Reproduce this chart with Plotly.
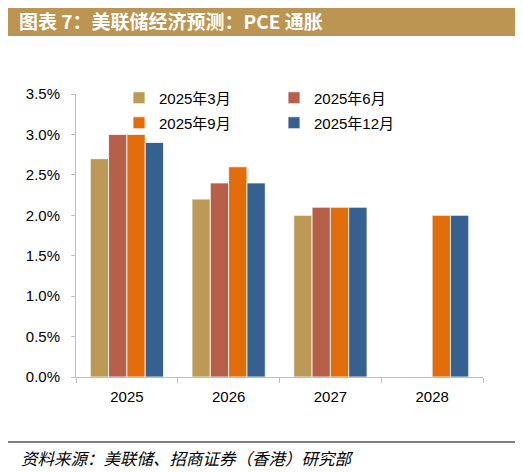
import plotly.graph_objects as go

years = ["2025", "2026", "2027", "2028"]
series_names = ["2025年3月", "2025年6月", "2025年9月", "2025年12月"]
mar_2025 = [2.7, 2.2, 2.0, None]
jun_2025 = [3.0, 2.4, 2.1, None]
sep_2025 = [3.0, 2.6, 2.1, 2.0]
dec_2025 = [2.9, 2.4, 2.1, 2.0]
y_ticks = [0, 0.5, 1.0, 1.5, 2.0, 2.5, 3.0, 3.5]
y_tick_labels = [f"{v:.1f}%" for v in y_ticks]

colors = ["#BC9A56", "#B85F4A", "#E36C0A", "#36608F"]
values = [mar_2025, jun_2025, sep_2025, dec_2025]

# page body has an 8px margin, so work in reference pixels and shift
OFF = 8
W, H = 523 - OFF, 472 - OFF
L, R, T, B = 76 - OFF, 40, 94 - OFF, 95
pw, ph = W - L - R, H - T - B


def px(x):
    return (x - OFF - L) / pw


def py(y):
    return (H - B - (y - OFF)) / ph


FONT = "Liberation Sans, Arial, Noto Sans CJK SC, sans-serif"

fig = go.Figure()
# legend text starts ~49px right of the legend's x
legend_pos = [(168 - 49, 98), (323 - 49, 98), (168 - 49, 123), (323 - 49, 123)]
for k, (name, vals, col) in enumerate(zip(series_names, values, colors)):
    lg = "legend" if k == 0 else f"legend{k + 1}"
    fig.add_trace(go.Bar(
        x=years, y=vals, name=name, legend=lg, showlegend=True,
        marker=dict(color=col, line=dict(color="white", width=0.8)),
    ))

legends = {}
for k, (lx, ly) in enumerate(legend_pos):
    key = "legend" if k == 0 else f"legend{k + 1}"
    legends[key] = dict(
        x=px(lx), y=py(ly), xanchor="left", yanchor="middle",
        bgcolor="rgba(0,0,0,0)", font=dict(size=15, color="#000", family=FONT),
        itemwidth=30, tracegroupgap=0, visible=True,
    )

fig.update_layout(
    width=W, height=H, showlegend=True,
    margin=dict(l=L, r=R, t=T, b=B),
    paper_bgcolor="white", plot_bgcolor="white",
    barmode="group", bargap=0.28, bargroupgap=0,
    font=dict(family=FONT, size=15, color="#000"),
    xaxis=dict(
        showline=True, linecolor="#BFBFBF", linewidth=1,
        ticks="outside", tickson="boundaries", ticklen=5, tickcolor="#BFBFBF",
        showgrid=False, tickfont=dict(size=15), ticklabelstandoff=6,
    ),
    yaxis=dict(
        range=[0, 3.5], tickvals=y_ticks, ticktext=y_tick_labels,
        showline=True, linecolor="#BFBFBF", linewidth=1,
        ticks="outside", ticklen=4, tickcolor="#BFBFBF",
        showgrid=False, zeroline=False, tickfont=dict(size=15), ticklabelstandoff=8,
    ),
    **legends,
    shapes=[
        dict(type="rect", xref="paper", yref="paper",
             x0=px(6), x1=px(517), y0=py(36), y1=py(5),
             fillcolor="#BC9552", line=dict(width=0), layer="below"),
        dict(type="line", xref="paper", yref="paper",
             x0=px(5), x1=px(517), y0=py(442), y1=py(442),
             line=dict(color="#000", width=1)),
    ],
    annotations=[
        dict(text="<b>图表 7：美联储经济预测：PCE 通胀</b>", xref="paper", yref="paper",
             x=px(17), y=py(20.5), xanchor="left", yanchor="middle", showarrow=False,
             font=dict(size=19, color="white", family="Noto Sans CJK SC, Liberation Sans, sans-serif")),
        dict(text="<i>资料来源：美联储、招商证券（香港）研究部</i>", xref="paper", yref="paper",
             x=px(19), y=py(458), xanchor="left", yanchor="middle", showarrow=False,
             font=dict(size=16.5, color="#000", family="Noto Sans CJK SC, sans-serif")),
    ],
)

fig.write_html("out.html")
